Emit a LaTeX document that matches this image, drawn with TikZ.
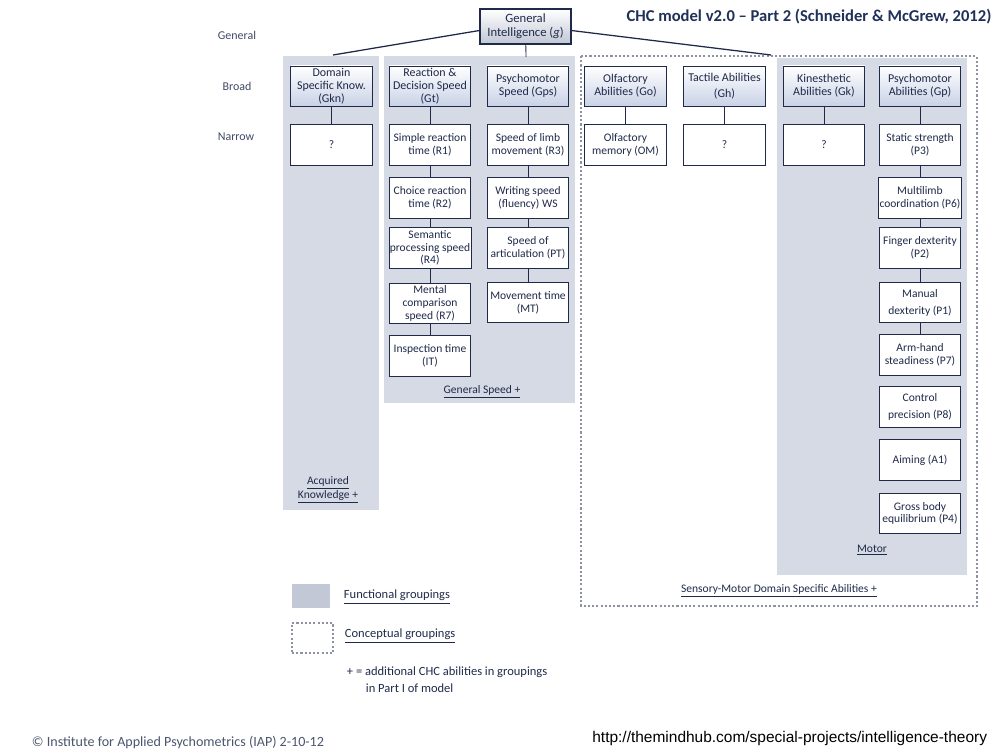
\documentclass[tikz,border=0pt]{standalone}
\usepackage{fontspec}
\setmainfont{Carlito}
\newfontfamily\urlfont{Liberation Sans}
\usepackage{tikz}
\usetikzlibrary{positioning}
\definecolor{navy}{HTML}{1F2A4A}
\definecolor{titleblue}{HTML}{1F3059}
\definecolor{groupgray}{HTML}{D6DAE4}
\definecolor{legendgray}{HTML}{C3C8D7}
\definecolor{dotgray}{HTML}{8E93A3}
\definecolor{broadblue}{HTML}{C9D2E6}

\begin{document}
\begin{tikzpicture}[x=0.025cm, y=-0.025cm,
    gbox/.style={draw=navy, line width=1.4pt, top color=white, bottom color=broadblue!70!navy!60,
                 minimum width=2.275cm, minimum height=0.875cm, inner sep=1pt, align=center,
                 font=\fontsize{9}{10}\selectfont, text=navy},
    broad/.style={draw=navy, line width=0.6pt, top color=white, bottom color=broadblue,
                  minimum width=2.03cm, minimum height=1cm, inner sep=0.5pt, align=center,
                  font=\fontsize{8.5}{9.3}\selectfont, text=navy},
    narrow/.style={draw=navy, line width=0.6pt, fill=white, minimum width=2.03cm,
                   minimum height=1.02cm, inner sep=0.5pt, align=center,
                   font=\fontsize{8.2}{9}\selectfont, text=navy},
    level/.style={font=\fontsize{8.5}{10}\selectfont, text=navy!85},
    grouplabel/.style={font=\fontsize{8.2}{9.5}\selectfont, text=navy, align=center},
    legend/.style={font=\fontsize{8.9}{10}\selectfont, text=navy, anchor=west},
    concept/.style={draw=dotgray, line width=1.8pt, dash pattern=on 1.5pt off 1.5pt},
    link/.style={navy, line width=0.6pt}
]
\useasboundingbox (0,0) rectangle (1008,756);

% Groupings
\fill[groupgray] (283,56) rectangle (379,510);
\fill[groupgray] (384,56) rectangle (575,403);
\fill[groupgray] (777,58) rectangle (967,575);
\draw[concept] (581,56) rectangle (977,606);

% Title and levels
\node[font=\fontsize{11.8}{13}\selectfont\bfseries, text=titleblue] (title) at (809,17)
    {CHC model v2.0 -- Part 2 (Schneider \& McGrew, 2012)};
\node[level] (lgen) at (237,35) {General};
\node[level] (lbroad) at (237,86) {Broad};
\node[level] (lnarrow) at (236,137) {Narrow};

% General
\node[gbox] (g) at (525.5,26.5) {General\\Intelligence (\textit{g})};
\coordinate (acqtop) at (333,55);
\coordinate (speedtop) at (526,57);
\coordinate (senstop) at (771,55);
\draw[link, line width=0.9pt] (g.185) -- (acqtop);
\draw[link, line width=0.9pt] (g.355) -- (senstop);
\draw[link] (g) -- (speedtop);

% Broad
\node[broad] (gkn) at (331.5,86) {Domain\\Specific Know.\\(Gkn)};
\node[broad] (gt) at (430,86) {Reaction \&\\Decision Speed\\(Gt)};
\node[broad] (gps) at (528,86) {Psychomotor\\Speed (Gps)};
\node[broad] (go) at (625.5,86) {Olfactory\\Abilities (Go)};
\node[broad] (gh) at (724.5,86) {Tactile Abilities\\[2pt](Gh)};
\node[broad] (gk) at (824,86) {Kinesthetic\\Abilities (Gk)};
\node[broad] (gp) at (920,86) {Psychomotor\\Abilities (Gp)};

% Narrow
\node[narrow] (gknq) at (331.5,145) {?};
\node[narrow] (r1) at (430,145) {Simple reaction\\time (R1)};
\node[narrow] (r2) at (430,198) {Choice reaction\\time (R2)};
\node[narrow] (r4) at (430,248) {Semantic\\processing speed\\(R4)};
\node[narrow] (r7) at (430,303.5) {Mental\\comparison\\speed (R7)};
\node[narrow] (it) at (430,356) {Inspection time\\(IT)};
\node[narrow] (r3) at (528,145) {Speed of limb\\movement (R3)};
\node[narrow] (ws) at (528,198) {Writing speed\\(fluency) WS};
\node[narrow] (pt) at (528,248) {Speed of\\articulation (PT)};
\node[narrow] (mt) at (528,302.5) {Movement time\\(MT)};
\node[narrow] (om) at (625.5,145) {Olfactory\\memory (OM)};
\node[narrow] (ghq) at (724.5,145) {?};
\node[narrow] (gkq) at (824,145) {?};
\node[narrow] (p3) at (920,145) {Static strength\\(P3)};
\node[narrow] (p6) at (920,198) {Multilimb\\coordination (P6)};
\node[narrow] (p2) at (920,248) {Finger dexterity\\(P2)};
\node[narrow] (p1) at (920,302.5) {Manual\\[3pt]dexterity (P1)};
\node[narrow] (p7) at (920,355) {Arm-hand\\steadiness (P7)};
\node[narrow] (p8) at (920,407) {Control\\[3pt]precision (P8)};
\node[narrow] (a1) at (920,460) {Aiming (A1)};
\node[narrow] (p4) at (920,513.5) {Gross body\\equilibrium (P4)};

% Links
\draw[link] (gkn) -- (gknq);
\draw[link] (gt) -- (r1);
\draw[link] (r1) -- (r2);
\draw[link] (r2) -- (r4);
\draw[link] (r4) -- (r7);
\draw[link] (r7) -- (it);
\draw[link] (gps) -- (r3);
\draw[link] (r3) -- (ws);
\draw[link] (ws) -- (pt);
\draw[link] (pt) -- (mt);
\draw[link] (go) -- (om);
\draw[link] (gh) -- (ghq);
\draw[link] (gk) -- (gkq);
\draw[link] (gp) -- (p3);
\draw[link] (p3) -- (p6);
\draw[link] (p6) -- (p2);
\draw[link] (p2) -- (p1);
\draw[link] (p1) -- (p7);

% Grouping labels
\node[grouplabel] (acqlbl) at (328,490) {\underline{Acquired}\\\underline{Knowledge +}};
\node[grouplabel] (speedlbl) at (482,392) {\underline{General Speed +}};
\node[grouplabel] (motorlbl) at (872,550) {\underline{Motor}};
\node[grouplabel] (senslbl) at (779,591) {\underline{Sensory-Motor Domain Specific Abilities +}};

% Legend
\node[fill=legendgray, minimum width=0.95cm, minimum height=0.6cm, inner sep=0pt] (legfun) at (311,596) {};
\node[concept, minimum width=1.025cm, minimum height=0.75cm, inner sep=0pt] (legcon) at (312.5,638) {};
\node[legend] (funtext) at (339,597) {\underline{Functional groupings}};
\node[legend] (context) at (340,636) {\underline{Conceptual groupings}};
\node[legend] (note1) at (342,672) {+ = additional CHC abilities in groupings};
\node[legend] (note2) at (361,688) {in Part I of model};

% Footer
\node[anchor=west, font=\fontsize{10}{12}\selectfont, text=navy!80] (copy) at (27,742)
    {\textcopyright{} Institute for Applied Psychometrics (IAP) 2-10-12};
\node[anchor=east, font=\urlfont\fontsize{11}{13}\selectfont] (url) at (992,738)
    {http://themindhub.com/special-projects/intelligence-theory};
\end{tikzpicture}
\end{document}
